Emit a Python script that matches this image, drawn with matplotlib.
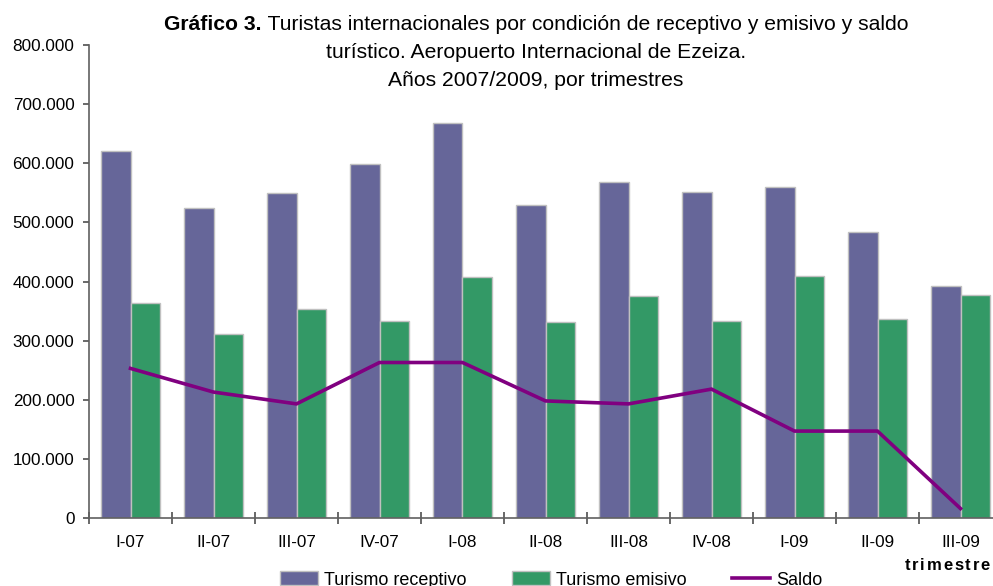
import matplotlib
matplotlib.use("Agg")
import matplotlib.pyplot as plt
import numpy as np
from matplotlib.ticker import FuncFormatter, FixedLocator
from matplotlib.patches import Patch
from matplotlib.lines import Line2D

plt.rcParams['font.family'] = ['Liberation Sans', 'DejaVu Sans']

categories = ["I-07", "II-07", "III-07", "IV-07", "I-08", "II-08", "III-08",
              "IV-08", "I-09", "II-09", "III-09"]
receptivo = [621000, 524000, 549000, 599000, 668000, 529000, 569000,
             552000, 560000, 483000, 392000]
emisivo = [364000, 312000, 354000, 333000, 408000, 331000, 375000,
           333000, 410000, 337000, 378000]
saldo = [253000, 213000, 193000, 263000, 263000, 198000, 193000,
         218000, 147000, 147000, 16000]
yticks = [0, 100000, 200000, 300000, 400000, 500000, 600000, 700000, 800000]

c_rec = "#666699"
c_emi = "#339966"
c_sal = "#800080"
axis_c = "#606060"

fig = plt.figure(figsize=(9.93, 5.86), dpi=100)
W, H = 993, 586
left_px, right_px, top_px, bot_px = 89, 1002, 45, 518
ax = fig.add_axes([left_px / W, 1 - bot_px / H, (right_px - left_px) / W,
                   (bot_px - top_px) / H])

x = np.arange(len(categories))
bw = 0.36
ax.bar(x - bw / 2, receptivo, bw, color=c_rec, edgecolor="#c0c0c0",
       linewidth=1.0, zorder=2)
ax.bar(x + bw / 2, emisivo, bw, color=c_emi, edgecolor="#c0c0c0",
       linewidth=1.0, zorder=2)
ax.plot(x, saldo, color=c_sal, linewidth=2.6, zorder=3,
        solid_joinstyle='miter')

ax.set_xlim(-0.5, len(categories) - 0.5)
ax.set_ylim(0, 800000)
ax.set_yticks(yticks)
ax.yaxis.set_major_formatter(
    FuncFormatter(lambda v, p: f"{int(v):,}".replace(",", ".")))
ax.set_xticks(x)
ax.set_xticklabels(categories)
ax.xaxis.set_minor_locator(FixedLocator(np.arange(-0.5, len(categories), 1.0)))

for s in ["top", "right"]:
    ax.spines[s].set_visible(False)
for s in ["left", "bottom"]:
    ax.spines[s].set_color(axis_c)
    ax.spines[s].set_linewidth(1.2)

ax.tick_params(axis='x', which='major', length=0, pad=12, labelsize=12.3,
               colors='black')
ax.tick_params(axis='x', which='minor', direction='inout', length=8,
               width=1.1, color="#404040")
ax.tick_params(axis='y', which='major', direction='out', length=4.5,
               width=1.1, color="#404040", pad=6, labelsize=12.3)

# title with bold prefix
line1_bold = "Gráfico 3."
line1_rest = " Turistas internacionales por condición de receptivo y emisivo y saldo"
line2 = "turístico. Aeropuerto Internacional de Ezeiza."
line3 = "Años 2007/2009, por trimestres"
fs_t = 15.2
cx = 536 / W
renderer = fig.canvas.get_renderer()
tb = fig.text(0, 0, line1_bold, fontsize=fs_t, fontweight='bold')
tr = fig.text(0, 0, line1_rest, fontsize=fs_t)
wb = tb.get_window_extent(renderer).width
wr = tr.get_window_extent(renderer).width
total = wb + wr
x0 = cx * W - total / 2
y1 = 1 - 25 / H
tb.set_position((x0 / W, y1))
tb.set_va('center')
tr.set_position(((x0 + wb) / W, y1))
tr.set_va('center')
fig.text(cx, 1 - 53 / H, line2, fontsize=fs_t, ha='center', va='center')
fig.text(cx, 1 - 80 / H, line3, fontsize=fs_t, ha='center', va='center')

# "trimestre" with letter spacing, right-aligned at x=990
word = "trimestre"
fs_w = 12
spacing = 1.8
chars = [fig.text(0, 0, ch, fontsize=fs_w, fontweight='bold', va='center')
         for ch in word]
widths = [c.get_window_extent(renderer).width for c in chars]
tot_w = sum(widths) + spacing * (len(word) - 1)
xc = 990 - tot_w
for c, w in zip(chars, widths):
    c.set_position((xc / W, 1 - 565 / H))
    xc += w + spacing

handles = [Patch(facecolor=c_rec, edgecolor="#c0c0c0"),
           Patch(facecolor=c_emi, edgecolor="#c0c0c0"),
           Line2D([0], [0], color=c_sal, linewidth=2.6)]
fig.legend(handles, ["Turismo receptivo", "Turismo emisivo", "Saldo"],
           loc='center', bbox_to_anchor=(551 / W, 1 - 580 / H), ncol=3,
           frameon=False, fontsize=13, handlelength=2.1, handleheight=0.8,
           handletextpad=0.35, columnspacing=2.5)

fig.savefig("out.png", dpi=100)
